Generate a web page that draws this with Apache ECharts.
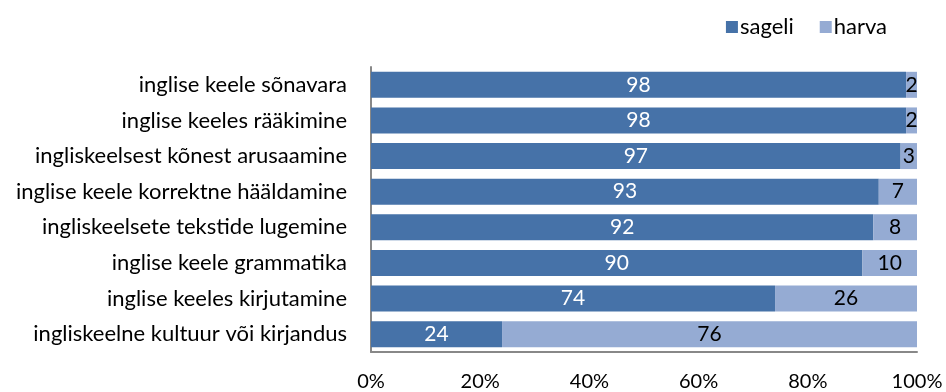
<!DOCTYPE html>
<html><head><meta charset="utf-8">
<script src="https://cdn.jsdelivr.net/npm/echarts@6/dist/echarts.min.js"></script>
<style>html,body{margin:0;padding:0;background:#fff}#c{width:946px;height:392px}</style>
</head><body><div id="c"></div>
<script>
const categories = [
  "inglise keele sõnavara",
  "inglise keeles rääkimine",
  "ingliskeelsest kõnest arusaamine",
  "inglise keele korrektne hääldamine",
  "ingliskeelsete tekstide lugemine",
  "inglise keele grammatika",
  "inglise keeles kirjutamine",
  "ingliskeelne kultuur või kirjandus"
];
const sageli = [98, 98, 97, 93, 92, 90, 74, 24];
const harva = [2, 2, 3, 7, 8, 10, 26, 76];
const xTicks = [0, 20, 40, 60, 80, 100];

const font = "Lato, 'Open Sans', sans-serif";
const chart = echarts.init(document.getElementById('c'), null, {renderer: 'canvas'});
chart.setOption({
  animation: false,
  textStyle: {fontFamily: font},
  legend: {
    data: ['sageli', 'harva'],
    right: 54, top: 11,
    itemWidth: 12, itemHeight: 12, itemGap: 26,
    icon: 'rect',
    textStyle: {fontFamily: font, fontSize: 22, color: '#000', padding: [0,0,0,-3]}
  },
  grid: {left: 371, right: 29, top: 67, bottom: 39, containLabel: false},
  xAxis: {
    type: 'value', min: 0, max: 100, interval: 20,
    axisLabel: {formatter: v => xTicks.includes(v) ? v + '%' : '', fontFamily: font, fontSize: 20, color: '#000', margin: 20},
    axisLine: {show: true, lineStyle: {color: '#888', width: 2}},
    axisTick: {show: false},
    splitLine: {show: false}
  },
  yAxis: {
    type: 'category', data: categories, inverse: true,
    axisLabel: {fontFamily: font, fontSize: 22, color: '#000', margin: 24},
    axisLine: {show: true, lineStyle: {color: '#888', width: 2}},
    axisTick: {show: false}
  },
  series: [
    {name: 'sageli', type: 'bar', stack: 't', data: sageli, barWidth: 26,
     itemStyle: {color: '#4672A8'},
     label: {show: true, position: 'inside', color: '#fff', fontFamily: font, fontSize: 21}},
    {name: 'harva', type: 'bar', stack: 't', data: harva, barWidth: 26,
     itemStyle: {color: '#95ABD3'},
     label: {show: true, position: 'inside', color: '#000', fontFamily: font, fontSize: 21}}
  ]
});
</script></body></html>
